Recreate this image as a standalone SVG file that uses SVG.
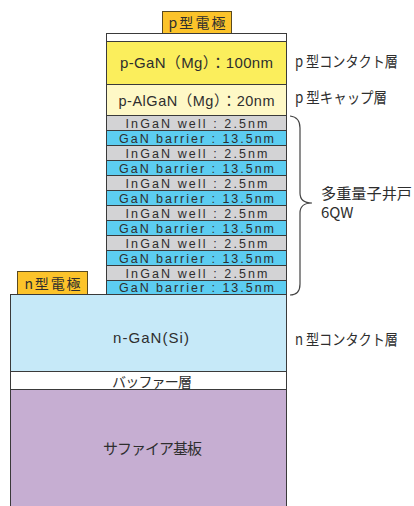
<svg xmlns="http://www.w3.org/2000/svg" width="414" height="506" viewBox="0 0 414 506">
<style>
.l{stroke:#3a3a3a;stroke-width:1}
.t{font-family:"Liberation Sans","Noto Sans CJK JP",sans-serif;fill:#2e2e2e;text-anchor:middle}
.j{font-family:"Noto Sans CJK JP","Liberation Sans",sans-serif;fill:#2e2e2e}
.q{font-size:12.5px}
.w{fill:#d3d3d5}
.b{fill:#5ccdf1}
.e{fill:#fcc32a;stroke:#5a4a20;stroke-width:1}
</style>
<rect width="414" height="506" fill="#fff"/>
<g id="p-electrode"><rect class="e" x="162.5" y="11.5" width="69" height="22"/><text class="j" x="197" y="28" font-size="14" text-anchor="middle" textLength="57" lengthAdjust="spacing">p型電極</text></g>
<g id="top-white"><rect class="l" x="106.5" y="33.5" width="180" height="8" fill="#fff"/></g>
<g id="p-GaN"><rect class="l" x="106.5" y="41.5" width="180" height="43" fill="#fbee5c"/><text class="t" x="196.5" y="68" font-size="15" textLength="153" lengthAdjust="spacing">p-GaN（Mg）：100nm</text></g>
<g id="p-AlGaN"><rect class="l" x="106.5" y="84.5" width="180" height="31" fill="#fef8c6"/><text class="t" x="196.5" y="106" font-size="14.5" textLength="156" lengthAdjust="spacing">p-AlGaN（Mg）：20nm</text></g>
<g id="mqw">
<rect class="l w" x="106.5" y="115.5" width="180" height="15"/><text class="t q" x="196.5" y="127.5" textLength="142" lengthAdjust="spacing">InGaN well : 2.5nm</text>
<rect class="l b" x="106.5" y="130.5" width="180" height="15"/><text class="t q" x="196.5" y="142.5" textLength="155" lengthAdjust="spacing">GaN barrier : 13.5nm</text>
<rect class="l w" x="106.5" y="145.5" width="180" height="15"/><text class="t q" x="196.5" y="157.5" textLength="142" lengthAdjust="spacing">InGaN well : 2.5nm</text>
<rect class="l b" x="106.5" y="160.5" width="180" height="15"/><text class="t q" x="196.5" y="172.5" textLength="155" lengthAdjust="spacing">GaN barrier : 13.5nm</text>
<rect class="l w" x="106.5" y="175.5" width="180" height="15"/><text class="t q" x="196.5" y="187.5" textLength="142" lengthAdjust="spacing">InGaN well : 2.5nm</text>
<rect class="l b" x="106.5" y="190.5" width="180" height="15"/><text class="t q" x="196.5" y="202.5" textLength="155" lengthAdjust="spacing">GaN barrier : 13.5nm</text>
<rect class="l w" x="106.5" y="205.5" width="180" height="15"/><text class="t q" x="196.5" y="217.5" textLength="142" lengthAdjust="spacing">InGaN well : 2.5nm</text>
<rect class="l b" x="106.5" y="220.5" width="180" height="15"/><text class="t q" x="196.5" y="232.5" textLength="155" lengthAdjust="spacing">GaN barrier : 13.5nm</text>
<rect class="l w" x="106.5" y="235.5" width="180" height="15"/><text class="t q" x="196.5" y="247.5" textLength="142" lengthAdjust="spacing">InGaN well : 2.5nm</text>
<rect class="l b" x="106.5" y="250.5" width="180" height="15"/><text class="t q" x="196.5" y="262.5" textLength="155" lengthAdjust="spacing">GaN barrier : 13.5nm</text>
<rect class="l w" x="106.5" y="265.5" width="180" height="15"/><text class="t q" x="196.5" y="277.5" textLength="142" lengthAdjust="spacing">InGaN well : 2.5nm</text>
<rect class="l b" x="106.5" y="280.5" width="180" height="14"/><text class="t q" x="196.5" y="292" textLength="155" lengthAdjust="spacing">GaN barrier : 13.5nm</text>
</g>
<g id="n-electrode"><rect class="e" x="17.5" y="271.5" width="70" height="23"/><text class="j" x="52.5" y="289" font-size="14" text-anchor="middle" textLength="56" lengthAdjust="spacing">n型電極</text></g>
<g id="n-GaN"><rect class="l" x="10.5" y="294.5" width="276" height="77" fill="#c6e9f8"/><text class="t" x="151" y="343" font-size="15" textLength="76" lengthAdjust="spacing">n-GaN(Si)</text></g>
<g id="buffer"><rect class="l" x="10.5" y="371.5" width="276" height="18" fill="#fff"/><text class="j" x="152" y="387" font-size="14" text-anchor="middle" textLength="80" lengthAdjust="spacing">バッファー層</text></g>
<g id="sapphire"><rect class="l" x="10.5" y="389.5" width="276" height="120" fill="#c6aed2"/><text class="j" x="152.5" y="454" font-size="15" text-anchor="middle" textLength="99" lengthAdjust="spacing">サファイア基板</text></g>
<g id="connectors"><path d="M290,116 Q300,117 300,128 L300,193 Q300,203 312,203 Q300,203 300,213 L300,284 Q300,295 290,295" fill="none" stroke="#444" stroke-width="1.2"/></g>
<g id="labels">
<text class="j" x="295" y="67" font-size="15" textLength="103" lengthAdjust="spacingAndGlyphs">p 型コンタクト層</text>
<text class="j" x="295" y="103" font-size="15" textLength="92" lengthAdjust="spacingAndGlyphs">p 型キャップ層</text>
<text class="j" x="321" y="199" font-size="15" textLength="91" lengthAdjust="spacingAndGlyphs">多重量子井戸</text>
<text class="j" x="321" y="218" font-size="15">6QW</text>
<text class="j" x="295" y="345" font-size="15" textLength="103" lengthAdjust="spacingAndGlyphs">n 型コンタクト層</text>
</g>
</svg>
